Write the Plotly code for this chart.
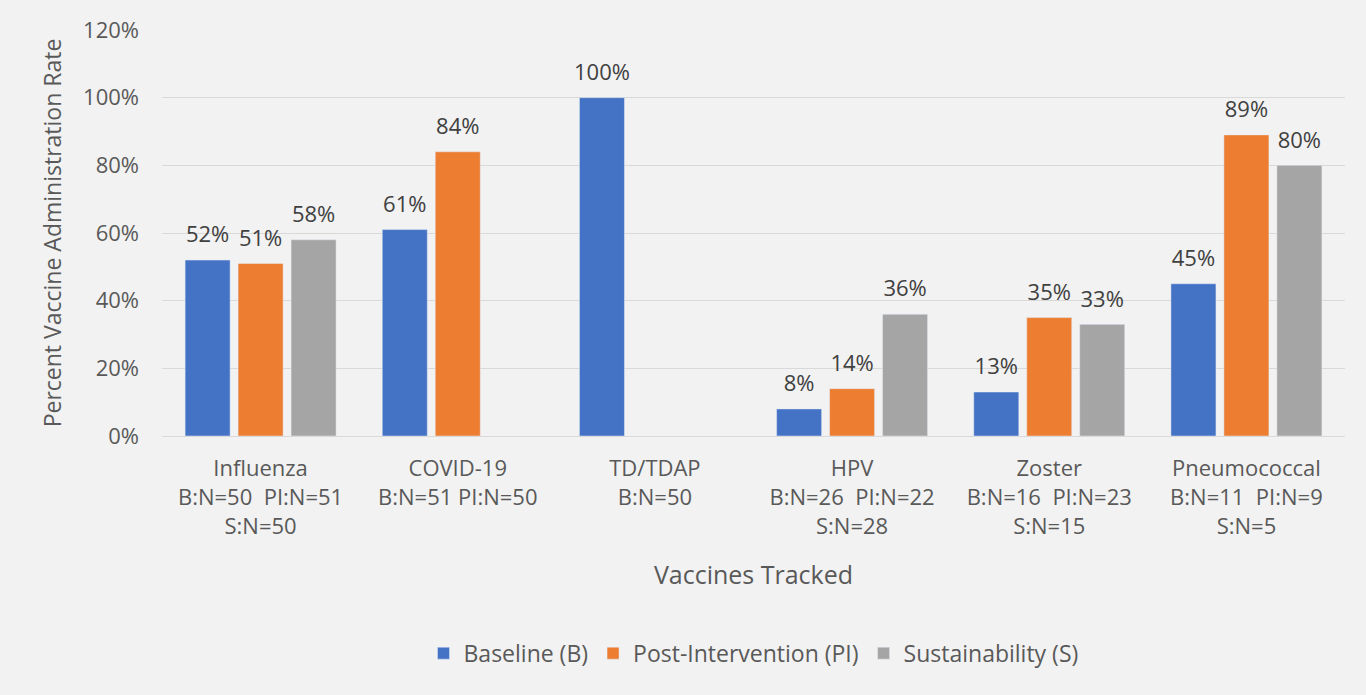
import plotly.graph_objects as go

categories = ["Influenza<br>B:N=50  PI:N=51<br>S:N=50",
              "COVID-19<br>B:N=51 PI:N=50",
              "TD/TDAP<br>B:N=50",
              "HPV<br>B:N=26  PI:N=22<br>S:N=28",
              "Zoster<br>B:N=16  PI:N=23<br>S:N=15",
              "Pneumococcal<br>B:N=11  PI:N=9<br>S:N=5"]
baseline = [52, 61, 100, 8, 13, 45]
post_intervention = [51, 84, None, 14, 35, 89]
sustainability = [58, None, None, 36, 33, 80]
y_ticks = [0, 20, 40, 60, 80, 100, 120]

FONT = "Open Sans"
TXT = "#404040"
AX = "#595959"
GAP = 0.194

series = [("Baseline (B)", baseline, "#4472c4"),
          ("Post-Intervention (PI)", post_intervention, "#ed7d31"),
          ("Sustainability (S)", sustainability, "#a5a5a5")]

fig = go.Figure()
for name, vals, color in series:
    fig.add_trace(go.Bar(x=categories, y=vals, name=name, marker_color=color,
                         hoverinfo="x+y"))
for name, vals, color in series:
    fig.add_trace(go.Scatter(
        x=categories, y=vals, mode="markers+text", showlegend=False,
        text=[f"{v}%" if v is not None else "" for v in vals],
        textposition="top center", cliponaxis=False,
        marker=dict(size=18, opacity=0),
        textfont=dict(family=FONT, size=22, color=TXT),
        hoverinfo="skip",
    ))

fig.update_layout(
    width=1366, height=695,
    paper_bgcolor="#f2f2f2", plot_bgcolor="#f2f2f2",
    margin=dict(l=162, r=21, t=30, b=259, pad=0),
    barmode="group", bargap=GAP, bargroupgap=0.15,
    scattermode="group", scattergap=GAP,
    font=dict(family=FONT, size=22, color=AX),
    legend=dict(orientation="h", x=0.5, xanchor="center", y=-0.535, yanchor="middle",
                font=dict(family=FONT, size=23, color=AX),
                itemwidth=30, traceorder="normal"),
    xaxis=dict(
        title=dict(text="Vaccines Tracked", font=dict(family=FONT, size=25, color=AX), standoff=27),
        tickfont=dict(family=FONT, size=22, color=AX),
        showline=True, linecolor="#d9d9d9", linewidth=1, ticks="",
        ticklabelstandoff=13,
    ),
    yaxis=dict(
        title=dict(text="Percent Vaccine Administration Rate", font=dict(family=FONT, size=23, color=AX), standoff=15),
        range=[0, 120], tickvals=y_ticks, ticktext=[f"{t}%" for t in y_ticks],
        tickfont=dict(family=FONT, size=22, color=AX),
        gridcolor="#d9d9d9", gridwidth=1, zeroline=False,
        ticklabelstandoff=22,
    ),
)
fig.write_html("out.html", config={"displayModeBar": False},
               post_script="document.body.style.margin='0';document.body.style.background='#f2f2f2';")
